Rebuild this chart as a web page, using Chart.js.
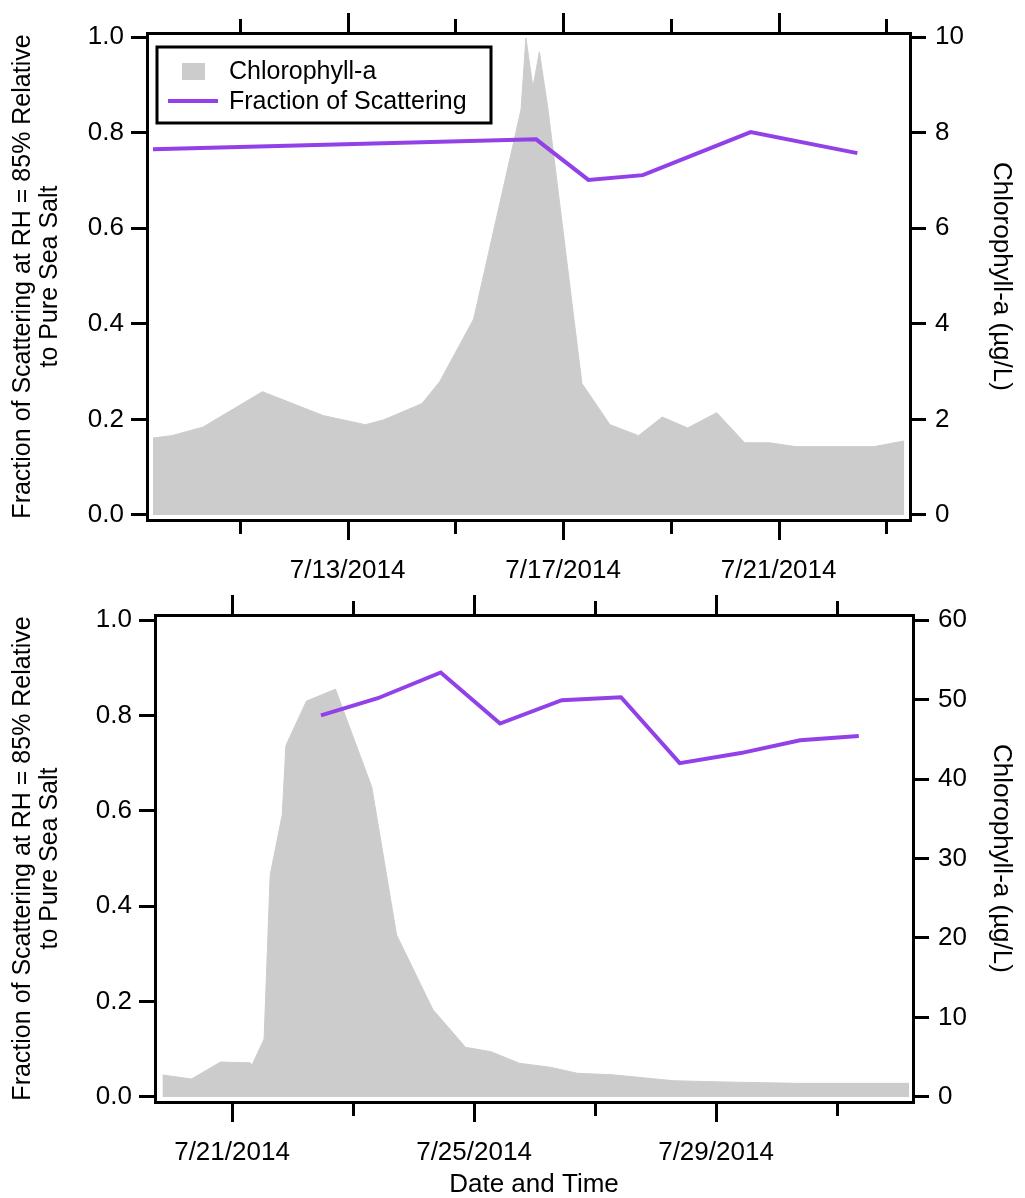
<!DOCTYPE html>
<html>
<head>
<meta charset="utf-8">
<script src="https://cdn.jsdelivr.net/npm/chart.js@4.4.1/dist/chart.umd.min.js"></script>
<style>
  html, body { margin: 0; padding: 0; background: #fff; }
  #wrap { position: relative; width: 1025px; height: 1198px; }
  canvas { position: absolute; left: 0; }
</style>
</head>
<body>
<div id="wrap">
  <canvas id="topChart" width="1025" height="590" style="top:0"></canvas>
  <canvas id="bottomChart" width="1025" height="608" style="top:590px"></canvas>
</div>
<script>
"use strict";
// x values are days of July 2014 (fractional)

// top panel
const topChlDays = [9.39, 9.74, 10.32, 11.42, 12.55, 13.33, 13.67, 14.38, 14.71, 15.34, 16.22, 16.31, 16.44, 16.56, 16.72, 17.35, 17.87, 18.40, 18.84, 19.31, 19.85, 20.37, 20.83, 21.32, 22.77, 23.33];
const topChlValues = [1.61, 1.66, 1.84, 2.58, 2.08, 1.89, 1.99, 2.33, 2.79, 4.10, 8.49, 9.98, 8.95, 9.69, 8.49, 2.75, 1.89, 1.66, 2.05, 1.82, 2.14, 1.51, 1.51, 1.43, 1.43, 1.55];
const topScatDays = [9.39, 16.50, 17.47, 18.48, 20.48, 22.46];
const topScatValues = [0.765, 0.786, 0.701, 0.711, 0.801, 0.757];

// bottom panel
const botChlDays = [19.85, 20.33, 20.81, 21.30, 21.33, 21.53, 21.63, 21.83, 21.89, 22.23, 22.71, 23.31, 23.72, 24.32, 24.86, 25.28, 25.75, 26.26, 26.71, 27.28, 28.29, 29.12, 30.33, 32.19];
const botChlValues = [2.77, 2.26, 4.4, 4.3, 4.0, 7.3, 27.9, 35.5, 44.2, 49.8, 51.3, 39.0, 20.4, 11.0, 6.25, 5.7, 4.24, 3.74, 2.98, 2.8, 2.05, 1.89, 1.72, 1.72];
const botScatDays = [22.47, 23.41, 24.45, 25.43, 26.45, 27.43, 28.40, 29.41, 30.39, 31.36];
const botScatValues = [0.80, 0.836, 0.89, 0.783, 0.832, 0.838, 0.70, 0.721, 0.748, 0.757];

// tick labels
const fracTicks = [0, 0.2, 0.4, 0.6, 0.8, 1.0];
const topChlTicks = [0, 2, 4, 6, 8, 10];
const botChlTicks = [0, 10, 20, 30, 40, 50, 60];

const GRAY = "#cccccc";
const PURPLE = "rgb(146, 64, 232)";
const FONT = '"Liberation Sans", Arial, sans-serif';

Chart.defaults.font.family = FONT;
Chart.defaults.font.size = 26;
Chart.defaults.color = "#000";

function pts(xs, ys) {
  return xs.map((x, i) => ({ x: x, y: ys[i] }));
}

function isMajor(v) {
  return (v - 13) % 4 === 0;
}

// x tick marks on bottom and top edges, long for labelled days
const dateTicks = {
  id: "dateTicks",
  afterDraw(chart) {
    const { ctx, chartArea } = chart;
    const xs = chart.scales.x;
    ctx.save();
    ctx.strokeStyle = "#000";
    ctx.lineWidth = 3;
    xs.ticks.forEach((t) => {
      const px = Math.round(xs.getPixelForValue(t.value)) + 0.5;
      const len = isMajor(t.value) ? 20 : 14;
      ctx.beginPath();
      ctx.moveTo(px, chartArea.bottom);
      ctx.lineTo(px, chartArea.bottom + len);
      ctx.moveTo(px, chartArea.top);
      ctx.lineTo(px, chartArea.top - len);
      ctx.stroke();
    });
    ctx.restore();
  },
};

// boxed legend inside top plot
const boxLegend = {
  id: "boxLegend",
  afterDraw(chart, args, opts) {
    if (!opts.show) return;
    const ctx = chart.ctx;
    const ds = chart.data.datasets;
    ctx.save();
    ctx.fillStyle = "#fff";
    ctx.fillRect(157, 47, 334, 76);
    ctx.strokeStyle = "#000";
    ctx.lineWidth = 3;
    ctx.strokeRect(157, 47, 334, 76);
    ctx.fillStyle = GRAY;
    ctx.fillRect(182, 63, 23, 17);
    ctx.strokeStyle = PURPLE;
    ctx.lineWidth = 4;
    ctx.beginPath();
    ctx.moveTo(168, 101);
    ctx.lineTo(218, 101);
    ctx.stroke();
    ctx.fillStyle = "#000";
    ctx.font = "25px " + FONT;
    ctx.textBaseline = "middle";
    ctx.fillText(ds[1].label, 229, 72);
    ctx.fillText(ds[0].label, 229, 102);
    ctx.restore();
  },
};

function makeChart(id, cfg) {
  const frame = { display: true, color: "#000", width: 3 };
  const tickMarks = { display: true, drawOnChartArea: false, drawTicks: true, tickLength: 16, color: "#000", lineWidth: 3 };
  return new Chart(document.getElementById(id), {
    type: "line",
    data: {
      datasets: [
        {
          label: "Fraction of Scattering",
          data: pts(cfg.scatDays, cfg.scatValues),
          yAxisID: "y",
          borderColor: PURPLE,
          borderWidth: 4,
          pointRadius: 0,
          fill: false,
          order: 1,
        },
        {
          label: "Chlorophyll-a",
          data: pts(cfg.chlDays, cfg.chlValues),
          yAxisID: "y2",
          borderColor: GRAY,
          backgroundColor: GRAY,
          borderWidth: 1,
          pointRadius: 0,
          fill: "origin",
          order: 2,
        },
      ],
    },
    options: {
      responsive: false,
      animation: false,
      layout: { padding: 0 },
      plugins: {
        legend: { display: false },
        tooltip: { enabled: false },
        boxLegend: { show: cfg.legend },
      },
      scales: {
        x: {
          type: "linear",
          position: "bottom",
          min: cfg.xMin,
          max: cfg.xMax,
          afterBuildTicks: (s) => {
            const t = [];
            for (let d = Math.ceil(s.min); d <= s.max; d++) if (d % 2 === 1) t.push({ value: d });
            s.ticks = t;
          },
          afterFit: (s) => { s.height = cfg.bottomH; },
          ticks: {
            autoSkip: false,
            maxRotation: 0,
            padding: 35,
            callback: (v) => (isMajor(v) ? "7/" + v + "/2014" : ""),
          },
          grid: { display: false, drawTicks: false },
          border: frame,
          title: { display: cfg.xTitle, text: "Date and Time", font: { size: 26, lineHeight: 1.0 }, padding: { top: 0, bottom: 0 } },
        },
        x2: {
          type: "linear",
          position: "top",
          min: cfg.xMin,
          max: cfg.xMax,
          afterFit: (s) => { s.height = cfg.topH; },
          ticks: { display: false },
          grid: { display: false, drawTicks: false },
          border: frame,
        },
        y: {
          position: "left",
          min: cfg.yMin,
          max: cfg.yMax,
          afterBuildTicks: (s) => { s.ticks = fracTicks.map((v) => ({ value: v })); },
          afterFit: (s) => { s.width = cfg.leftW; },
          ticks: { padding: 7, callback: (v) => v.toFixed(1) },
          grid: tickMarks,
          border: frame,
          title: {
            display: true,
            text: ["Fraction of Scattering at RH = 85% Relative", "to Pure Sea Salt"],
            font: { size: 25, lineHeight: 1.1 },
            padding: { top: 9, bottom: 0 },
          },
        },
        y2: {
          position: "right",
          min: cfg.y2Min,
          max: cfg.y2Max,
          afterBuildTicks: (s) => { s.ticks = cfg.chlTicks.map((v) => ({ value: v })); },
          afterFit: (s) => { s.width = cfg.rightW; },
          ticks: { padding: 9 },
          grid: tickMarks,
          border: frame,
          title: {
            display: true,
            text: "Chlorophyll-a (µg/L)",
            font: { size: 26, lineHeight: 1.1 },
            padding: { top: 10, bottom: 0 },
          },
        },
      },
    },
    plugins: [dateTicks, boxLegend],
  });
}

makeChart("topChart", {
  chlDays: topChlDays, chlValues: topChlValues,
  scatDays: topScatDays, scatValues: topScatValues,
  chlTicks: topChlTicks,
  xMin: 9.279, xMax: 23.437,
  yMin: -0.0105, yMax: 1.0084,
  y2Min: -0.105, y2Max: 10.084,
  leftW: 147, rightW: 115, topH: 33, bottomH: 70,
  legend: true, xTitle: false,
});

makeChart("bottomChart", {
  chlDays: botChlDays, chlValues: botChlValues,
  scatDays: botScatDays, scatValues: botScatValues,
  chlTicks: botChlTicks,
  xMin: 19.727, xMax: 32.256,
  yMin: -0.0105, yMax: 1.0105,
  y2Min: -0.63, y2Max: 60.63,
  leftW: 155, rightW: 112, topH: 25, bottomH: 96,
  legend: false, xTitle: true,
});
</script>
</body>
</html>
